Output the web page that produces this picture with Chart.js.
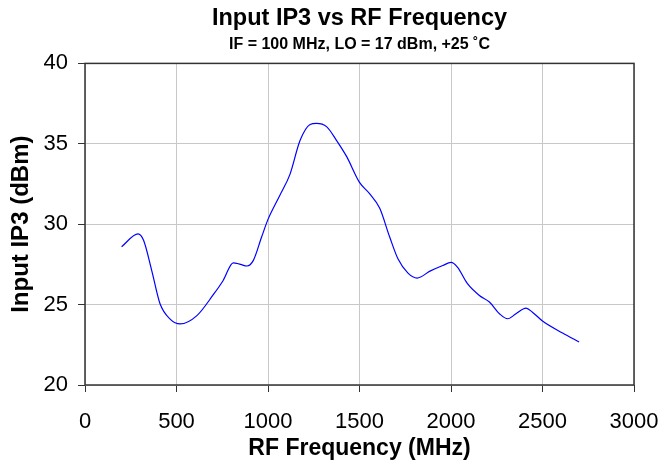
<!DOCTYPE html>
<html>
<head>
<meta charset="utf-8">
<script src="https://cdn.jsdelivr.net/npm/chart.js@4.4.1/dist/chart.umd.min.js"></script>
<style>
  html, body { margin: 0; padding: 0; background: #fff; }
  #wrap { width: 665px; height: 466px; }
</style>
</head>
<body>
<div id="wrap"><canvas id="c" width="665" height="466"></canvas></div>
<script>
const freqMHz = [200, 290, 320, 365, 410, 465, 520, 610, 700, 755, 810, 850, 885, 920, 965, 1000, 1065, 1120, 1175, 1230, 1265, 1320, 1375, 1430, 1500, 1555, 1610, 1665, 1710, 1765, 1815, 1885, 1955, 2000, 2035, 2090, 2155, 2210, 2265, 2310, 2355, 2410, 2445, 2500, 2610, 2700];
const inputIP3 = [28.6, 29.4, 29.0, 27.1, 25.05, 24.1, 23.8, 24.3, 25.6, 26.5, 27.6, 27.5, 27.4, 27.75, 29.2, 30.3, 31.8, 33.1, 35.2, 36.2, 36.27, 36.07, 35.2, 34.2, 32.6, 31.9, 31.0, 29.2, 27.85, 26.96, 26.65, 27.08, 27.43, 27.62, 27.33, 26.3, 25.57, 25.16, 24.43, 24.12, 24.43, 24.78, 24.53, 23.98, 23.23, 22.67];
const xTicks = [0, 500, 1000, 1500, 2000, 2500, 3000];
const yTicks = [20, 25, 30, 35, 40];

const titleText = 'Input IP3 vs RF Frequency';
const subtitleText = 'IF = 100 MHz, LO = 17 dBm, +25 \u02DAC';
const xTitle = 'RF Frequency (MHz)';
const yTitle = 'Input IP3 (dBm)';

const points = freqMHz.map((f, i) => ({ x: f, y: inputIP3[i] }));
const FONT = "'Liberation Sans', Arial, Helvetica, sans-serif";

const frame = {
  id: 'frame',
  afterDatasetsDraw(chart) {
    const a = chart.chartArea, ctx = chart.ctx;
    ctx.save();
    ctx.strokeStyle = '#333333';
    ctx.lineWidth = 1.5;
    ctx.strokeRect(a.left, a.top, a.right - a.left, a.bottom - a.top);
    ctx.restore();
  }
};

new Chart(document.getElementById('c'), {
  type: 'line',
  data: {
    datasets: [{
      data: points,
      borderColor: '#0000ff',
      borderWidth: 1.2,
      pointRadius: 0,
      fill: false,
      cubicInterpolationMode: 'monotone'
    }]
  },
  options: {
    responsive: false,
    animation: false,
    devicePixelRatio: 1,
    layout: { padding: { left: 0, right: 31, top: 0, bottom: 0 } },
    plugins: {
      legend: { display: false },
      tooltip: { enabled: false },
      title: {
        display: true, text: titleText, color: '#000', fullSize: false,
        font: { family: FONT, size: 23.5, weight: 'bold', lineHeight: 1.2 },
        padding: { top: 4, bottom: 0 }
      },
      subtitle: {
        display: true, text: subtitleText, color: '#000', fullSize: false,
        font: { family: FONT, size: 16, weight: 'bold', lineHeight: 1.2 },
        padding: { top: 3, bottom: 9 }
      }
    },
    scales: {
      x: {
        type: 'linear', min: 0, max: 3000,
        afterBuildTicks(s) { s.ticks = xTicks.map(v => ({ value: v })); },
        afterFit(s) { s.height = 81; s.paddingLeft = 0; s.paddingRight = 0; },
        ticks: { color: '#000', font: { family: FONT, size: 22 }, padding: 17, maxRotation: 0, callback: v => String(v) },
        grid: { color: '#c8c8c8', tickColor: '#333', tickLength: 7, lineWidth: 1 },
        border: { display: false },
        title: { display: true, text: xTitle, color: '#000', font: { family: FONT, size: 23, weight: 'bold' }, padding: { top: 0, bottom: 4 } }
      },
      y: {
        type: 'linear', min: 20, max: 40,
        afterBuildTicks(s) { s.ticks = yTicks.map(v => ({ value: v })); },
        afterFit(s) { s.width = 85; },
        ticks: { color: '#000', font: { family: FONT, size: 22 }, padding: 10, callback: v => String(v) },
        grid: { color: '#c8c8c8', tickColor: '#333', tickLength: 7, lineWidth: 1 },
        border: { display: false },
        title: { display: true, text: yTitle, color: '#000', font: { family: FONT, size: 24, weight: 'bold' }, padding: { top: 7, bottom: 0 } }
      }
    }
  },
  plugins: [frame]
});
</script>
</body>
</html>
